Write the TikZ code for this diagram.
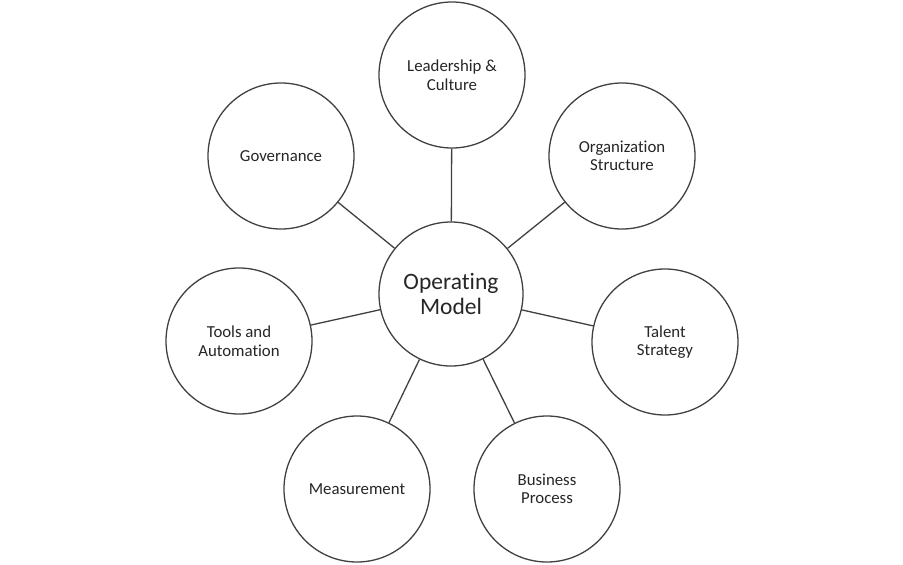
\documentclass[tikz,border=0pt]{standalone}
\usepackage{fontspec}
\setmainfont{Carlito}[Ligatures={NoCommon}]
\usepackage{tikz}
\usetikzlibrary{positioning}

\begin{document}
\begin{tikzpicture}[x=1pt, y=-1pt,
    bubble/.style={circle, draw=black!75, line width=1.3pt, fill=white, minimum size=146pt, inner sep=0pt, align=center, font=\fontsize{16.8}{18.5}\selectfont, text=black!85},
    hub/.style={bubble, minimum size=144pt, font=\fontsize{23.5}{24.5}\selectfont},
    spoke/.style={draw=black!75, line width=1.3pt}]

\useasboundingbox (0,0) rectangle (903,565);

% centre
\node[hub] (OM) at (451,294) {Operating\\Model};

% outer ring
\node[bubble] (LC) at (452,75) {Leadership \&\\Culture};
\node[bubble] (OS) at (622,156) {Organization\\Structure};
\node[bubble] (TS) at (665,342) {Talent\\Strategy};
\node[bubble] (BP) at (547,489) {Business\\Process};
\node[bubble] (ME) at (357,489) {Measurement};
\node[bubble] (TA) at (239,341) {Tools and\\Automation};
\node[bubble] (GV) at (281,156) {Governance};

% spokes
\foreach \n in {LC,OS,TS,BP,ME,TA,GV}
    \draw[spoke] (OM) -- (\n);

\end{tikzpicture}
\end{document}
